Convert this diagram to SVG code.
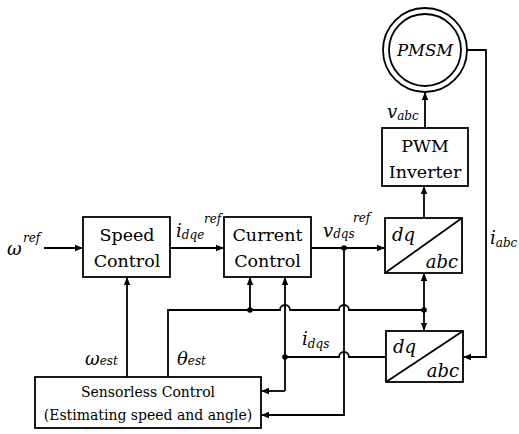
<svg xmlns="http://www.w3.org/2000/svg" width="519" height="434" viewBox="0 0 519 434">
<style>
.box{fill:#fff;stroke:#000;stroke-width:1.8}
.ln{fill:none;stroke:#000;stroke-width:1.8}
text{font-family:'DejaVu Serif','Liberation Serif',serif;fill:#000}
.lbl{font-size:17.5px;text-anchor:middle}
.m{font-style:italic}
.s{font-size:12px}
.v{font-size:18px}
</style>
<defs>
<marker id="ah" viewBox="0 0 10 10" refX="10" refY="5" markerWidth="8" markerHeight="8" markerUnits="userSpaceOnUse" orient="auto">
<path d="M0,1 L10,5 L0,9 Z" fill="#000"/>
</marker>
</defs>
<rect width="519" height="434" fill="#fff"/>
<g id="connectors">
<path class="ln" d="M44,248 H83" marker-end="url(#ah)"/>
<path class="ln" d="M170,248 H224" marker-end="url(#ah)"/>
<path class="ln" d="M311,248 H385" marker-end="url(#ah)"/>
<path class="ln" d="M424,218 V186" marker-end="url(#ah)"/>
<path class="ln" d="M425,128 V92" marker-end="url(#ah)"/>
<path class="ln" d="M467,50 H486 V357 H463" marker-end="url(#ah)"/>
<path class="ln" d="M127,377 V277" marker-end="url(#ah)"/>
<path class="ln" d="M168,377 V310 H280 A5,5 0 0 1 290,310 H339 A5,5 0 0 1 349,310 H424"/>
<path class="ln" d="M250,310 V277" marker-end="url(#ah)"/>
<path class="ln" d="M424,310 V273" marker-end="url(#ah)"/>
<path class="ln" d="M424,310 V331" marker-end="url(#ah)"/>
<path class="ln" d="M386,357 H349 A5,5 0 0 0 339,357 H285"/>
<path class="ln" d="M285,391 V277" marker-end="url(#ah)"/>
<path class="ln" d="M285,391 H261" marker-end="url(#ah)"/>
<path class="ln" d="M344,248 V415 H261" marker-end="url(#ah)"/>
<circle cx="344" cy="248" r="2.8"/>
<circle cx="250" cy="310" r="2.8"/>
<circle cx="424" cy="310" r="2.8"/>
<circle cx="285" cy="357" r="2.8"/>
</g>
<g id="speed">
<rect class="box" x="83" y="217" width="87" height="60"/>
<text class="lbl" x="127" y="241">Speed</text>
<text class="lbl" x="127" y="267">Control</text>
</g>
<g id="current">
<rect class="box" x="224" y="217" width="87" height="60"/>
<text class="lbl" x="267.5" y="241">Current</text>
<text class="lbl" x="267.5" y="267">Control</text>
</g>
<g id="dqabc1">
<rect class="box" x="385" y="218" width="77" height="55"/>
<path class="ln" d="M385,273 L462,218"/>
<text class="m v" x="392" y="241">dq</text>
<text class="m v" x="458" y="268" text-anchor="end">abc</text>
</g>
<g id="dqabc2">
<rect class="box" x="386" y="331" width="77" height="51"/>
<path class="ln" d="M386,382 L463,331"/>
<text class="m v" x="393" y="353">dq</text>
<text class="m v" x="459" y="377" text-anchor="end">abc</text>
</g>
<g id="pwm">
<rect class="box" x="382" y="128" width="86" height="58"/>
<text class="lbl" x="425" y="152">PWM</text>
<text class="lbl" x="425" y="178">Inverter</text>
</g>
<g id="pmsm">
<circle class="box" cx="425" cy="50" r="42"/>
<circle class="box" cx="425" cy="50" r="36"/>
<text class="m" x="425" y="56" font-size="16.5" text-anchor="middle">PMSM</text>
</g>
<g id="sensorless">
<rect class="box" x="35" y="377" width="226" height="51"/>
<text x="148" y="397" font-size="14" text-anchor="middle">Sensorless Control</text>
<text x="148" y="420" font-size="14" text-anchor="middle">(Estimating speed and angle)</text>
</g>
<g id="labels">
<text class="m v" x="7" y="255">ω</text>
<text class="m s" x="23" y="242">ref</text>
<text class="m v" x="176" y="237">i<tspan class="s" dy="2">dqe</tspan></text>
<text class="m s" x="204" y="223">ref</text>
<text class="m v" x="323" y="237">v<tspan class="s" dy="1">dqs</tspan></text>
<text class="m s" x="353" y="222">ref</text>
<text class="m v" x="387" y="118">v<tspan class="s" dy="2">abc</tspan></text>
<text class="m v" x="490" y="244">i<tspan class="s" dy="3">abc</tspan></text>
<text class="m v" x="302" y="345">i<tspan class="s" dy="3">dqs</tspan></text>
<text class="m v" x="85" y="365">ω<tspan class="s" dy="0">est</tspan></text>
<text class="m v" x="177" y="365">θ<tspan class="s" dy="0">est</tspan></text>
</g>
</svg>
